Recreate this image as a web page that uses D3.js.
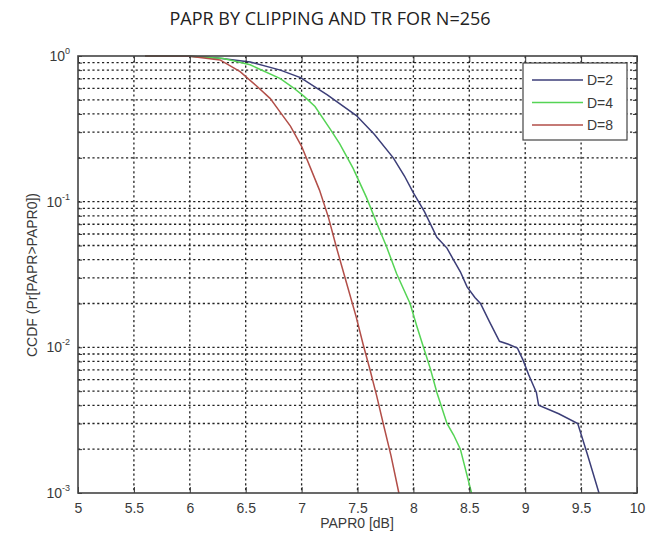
<!DOCTYPE html>
<html>
<head>
<meta charset="utf-8">
<script src="https://cdn.jsdelivr.net/npm/d3@7"></script>
<style>
  body { margin: 0; background: #fff; }
  svg text { font-family: "Liberation Sans", Arial, sans-serif; fill: #3a3a3a; }
  .title { font-family: "Open Sans", "Noto Sans", sans-serif; fill: #222; }
</style>
</head>
<body>
<div id="chart"></div>
<script>
// series data: [PAPR0 dB, CCDF]
var seriesNames = ['D=2', 'D=4', 'D=8'];
var seriesColors = ['#3c3e78', '#55d455', '#b24e48'];

var d2 = [
  [5.6, 1], [6.0, 0.995], [6.25, 0.97], [6.54, 0.91], [6.81, 0.80], [6.99, 0.71],
  [7.23, 0.54], [7.49, 0.39], [7.65, 0.29], [7.82, 0.20], [7.92, 0.15], [8.0, 0.115],
  [8.1, 0.085], [8.21, 0.057], [8.3, 0.048], [8.35, 0.041],
  [8.42, 0.033], [8.48, 0.026], [8.55, 0.022], [8.6, 0.020], [8.68, 0.015], [8.77, 0.011],
  [8.85, 0.0105], [8.93, 0.0099], [8.98, 0.0082], [9.03, 0.0065], [9.1, 0.0049],
  [9.12, 0.0040], [9.3, 0.0035], [9.47, 0.0030], [9.56, 0.0018], [9.66, 0.001]
];
var d4 = [
  [5.6, 1], [6.0, 0.995], [6.3, 0.96], [6.54, 0.87], [6.81, 0.70], [6.92, 0.61], [7.02, 0.53],
  [7.12, 0.45], [7.25, 0.32], [7.34, 0.25], [7.46, 0.17], [7.58, 0.107], [7.67, 0.072],
  [7.76, 0.049], [7.85, 0.032], [7.97, 0.020], [8.03, 0.014], [8.09, 0.010],
  [8.15, 0.0072], [8.21, 0.0049], [8.3, 0.0030], [8.36, 0.0025], [8.42, 0.0020], [8.52, 0.001]
];
var d8 = [
  [5.6, 1], [6.0, 0.995], [6.27, 0.94], [6.45, 0.78], [6.6, 0.62], [6.72, 0.51],
  [6.81, 0.41], [6.9, 0.33], [7.0, 0.24], [7.08, 0.17], [7.16, 0.12], [7.24, 0.078],
  [7.31, 0.049], [7.4, 0.028], [7.49, 0.016], [7.55, 0.0105], [7.61, 0.0071],
  [7.67, 0.0047], [7.73, 0.0030], [7.8, 0.0018], [7.87, 0.001]
];
var seriesData = [d2, d4, d8];

var xTicks = [5, 5.5, 6, 6.5, 7, 7.5, 8, 8.5, 9, 9.5, 10];
var yDecades = [1, 0.1, 0.01, 0.001];
var yExponents = ['0', '-1', '-2', '-3'];

var W = 656, H = 542;
var pLeft = 78, pRight = 637, pTop = 56, pBottom = 493;

var svg = d3.select('#chart').append('svg').attr('width', W).attr('height', H);

var x = d3.scaleLinear().domain([5, 10]).range([pLeft, pRight]);
var y = d3.scaleLog().domain([0.001, 1]).range([pBottom, pTop]);

// minor grid values on the log axis
var yGrid = [];
[0.001, 0.01, 0.1].forEach(function(d) {
  for (var k = 1; k < 10; k++) yGrid.push(d * k);
});
yGrid.push(1);

// grid
var grid = svg.append('g').attr('stroke', '#222').attr('stroke-width', 1.3)
  .attr('stroke-dasharray', '2.2,2.6');
grid.selectAll('line.h').data(yGrid.filter(function(d) { return d > 0.0011 && d < 0.99; }))
  .enter().append('line').attr('class', 'h')
  .attr('x1', pLeft).attr('x2', pRight)
  .attr('y1', function(d) { return y(d); }).attr('y2', function(d) { return y(d); });
grid.selectAll('line.v').data(xTicks.slice(1, -1))
  .enter().append('line').attr('class', 'v')
  .attr('y1', pTop).attr('y2', pBottom)
  .attr('x1', function(d) { return x(d); }).attr('x2', function(d) { return x(d); });

// curves
var line = d3.line()
  .x(function(d) { return x(d[0]); })
  .y(function(d) { return y(d[1]); });

svg.append('g').selectAll('path').data(seriesData).enter().append('path')
  .attr('d', line)
  .attr('fill', 'none')
  .attr('stroke', function(d, i) { return seriesColors[i]; })
  .attr('stroke-width', 1.5);

// axes
var xAxis = svg.append('g').attr('transform', 'translate(0,' + pBottom + ')')
  .call(d3.axisBottom(x).tickValues(xTicks).tickSize(-6).tickPadding(10)
    .tickFormat(function(d) { return d; }));
var xAxisTop = svg.append('g').attr('transform', 'translate(0,' + pTop + ')')
  .call(d3.axisTop(x).tickValues(xTicks).tickSize(-6).tickFormat(''));
var yAxis = svg.append('g').attr('transform', 'translate(' + pLeft + ',0)')
  .call(d3.axisLeft(y).tickValues(yGrid).tickSize(-4).tickFormat(''));
var yAxisRight = svg.append('g').attr('transform', 'translate(' + pRight + ',0)')
  .call(d3.axisRight(y).tickValues(yGrid).tickSize(-4).tickFormat(''));

[xAxis, xAxisTop, yAxis, yAxisRight].forEach(function(a) {
  a.select('.domain').remove();
  a.selectAll('.tick line').attr('stroke', '#333');
});
xAxis.selectAll('.tick text').attr('font-size', 14).attr('fill', '#3a3a3a')
  .attr('font-family', '"Liberation Sans", Arial, sans-serif');

// frame
svg.append('rect').attr('x', pLeft).attr('y', pTop)
  .attr('width', pRight - pLeft).attr('height', pBottom - pTop)
  .attr('fill', 'none').attr('stroke', '#444').attr('stroke-width', 1.6);

// y decade labels
var yl = svg.append('g').selectAll('text').data(yDecades).enter().append('text')
  .attr('x', pLeft - 8).attr('y', function(d) { return y(d) + 5; })
  .attr('text-anchor', 'end').attr('font-size', 14);
yl.append('tspan').text('10');
yl.append('tspan').attr('dy', -7).attr('font-size', 9)
  .text(function(d, i) { return yExponents[i]; });

// titles
svg.append('text').attr('class', 'title').attr('x', 330).attr('y', 25)
  .attr('text-anchor', 'middle').attr('font-size', 18)
  .text('PAPR BY CLIPPING AND TR FOR N=256');
svg.append('text').attr('x', 357).attr('y', 528).attr('text-anchor', 'middle')
  .attr('font-size', 14).text('PAPR0 [dB]');
svg.append('text').attr('transform', 'translate(37,275) rotate(-90)')
  .attr('text-anchor', 'middle').attr('font-size', 14)
  .text('CCDF (Pr[PAPR>PAPR0])');

// legend
var lg = svg.append('g');
lg.append('rect').attr('x', 523).attr('y', 63).attr('width', 104).attr('height', 77)
  .attr('fill', '#fff').attr('stroke', '#444').attr('stroke-width', 1.2);
var items = lg.selectAll('g.item').data(seriesNames).enter().append('g')
  .attr('transform', function(d, i) { return 'translate(0,' + (80 + i * 22.5) + ')'; });
items.append('line').attr('x1', 532).attr('x2', 583).attr('y1', 0).attr('y2', 0)
  .attr('stroke', function(d, i) { return seriesColors[i]; }).attr('stroke-width', 1.5);
items.append('text').attr('x', 587).attr('y', 5).attr('font-size', 14)
  .text(function(d) { return d; });
</script>
</body>
</html>
